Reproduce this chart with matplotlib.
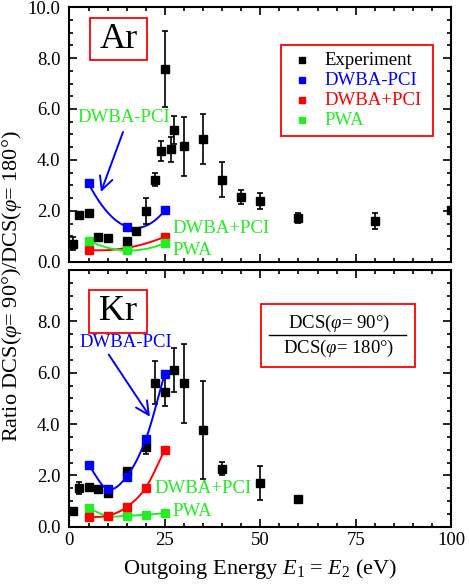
import numpy as np
import matplotlib
matplotlib.use('Agg')
import matplotlib.pyplot as plt
from matplotlib.ticker import MultipleLocator, FormatStrFormatter
from matplotlib.patches import Rectangle

plt.rcParams['font.family'] = ['Liberation Serif', 'DejaVu Serif']
plt.rcParams['mathtext.fontset'] = 'custom'
plt.rcParams['mathtext.rm'] = 'Liberation Serif'
plt.rcParams['mathtext.it'] = 'Liberation Serif:italic'
plt.rcParams['font.size'] = 13.5

BLUE = '#0000ff'
RED = '#ff0000'
GREEN = '#22ee22'

# ---- Ar data ----
ar_exp_E = [1, 2.5, 5, 7.5, 10, 15, 17.5, 20, 22.5, 24, 25, 26.5, 27.5, 30, 35, 40, 45, 50, 60, 80, 100]
ar_exp_R = [0.71, 1.84, 1.92, 0.97, 0.92, 0.84, 1.21, 2.0, 3.22, 4.36, 7.57, 4.42, 5.18, 4.54, 4.82, 3.22, 2.55, 2.39, 1.71, 1.62, 2.02]
ar_exp_err = [0.26, 0.05, 0.05, 0.05, 0.05, 0.05, 0.05, 0.52, 0.26, 0.39, 1.5, 0.49, 0.54, 1.16, 0.98, 0.69, 0.29, 0.33, 0.2, 0.31, 0.05]

theory_E = [5, 15, 25]
ar_dwba_mpci = [3.08, 1.39, 2.02]
ar_dwba_ppci = [0.47, 0.55, 0.99]
ar_pwa = [0.84, 0.45, 0.74]

# ---- Kr data ----
kr_exp_E = [1, 2.5, 5, 7.5, 10, 15, 20, 22.5, 25, 27.5, 30, 35, 40, 50, 60]
kr_exp_R = [0.6, 1.52, 1.57, 1.47, 1.3, 2.19, 3.12, 5.62, 5.27, 6.11, 5.59, 3.77, 2.26, 1.72, 1.08]
kr_exp_err = [0.05, 0.24, 0.05, 0.05, 0.05, 0.05, 0.29, 0.83, 0.58, 0.86, 1.54, 1.9, 0.25, 0.66, 0.1]

kr_theory_E = [5, 10, 15, 20, 25]
kr_dwba_mpci = [2.41, 1.47, 1.96, 3.41, 5.97]
kr_dwba_ppci = [0.38, 0.43, 0.77, 1.53, 3.0]
kr_pwa = [0.73, 0.42, 0.43, 0.47, 0.53]


def smooth(x, y):
    # smooth connecting line through the calculated points (like origin's spline)
    x = np.asarray(x, float)
    y = np.asarray(y, float)
    xs = np.linspace(x.min(), x.max(), 100)
    if len(x) == 3:
        return xs, np.polyval(np.polyfit(x, y, 2), xs)
    ys = []
    for xv in xs:
        i = min(max(np.searchsorted(x, xv) - 1, 0), len(x) - 2)
        p0 = y[i - 1] if i > 0 else 2 * y[i] - y[i + 1]
        p1, p2 = y[i], y[i + 1]
        p3 = y[i + 2] if i + 2 < len(x) else 2 * y[i + 1] - y[i]
        t = (xv - x[i]) / (x[i + 1] - x[i])
        ys.append(0.5 * ((2 * p1) + (-p0 + p2) * t + (2 * p0 - 5 * p1 + 4 * p2 - p3) * t ** 2
                         + (-p0 + 3 * p1 - 3 * p2 + p3) * t ** 3))
    return xs, np.array(ys)


def style_axes(ax, show_xlabels):
    ax.set_xlim(0, 100)
    ax.set_ylim(0, 10)
    ax.xaxis.set_major_locator(MultipleLocator(25))
    ax.xaxis.set_minor_locator(MultipleLocator(5))
    ax.yaxis.set_major_locator(MultipleLocator(2))
    ax.yaxis.set_minor_locator(MultipleLocator(0.5))
    ax.yaxis.set_major_formatter(FormatStrFormatter('%.1f'))
    ax.tick_params(which='both', direction='in', top=True, right=True, width=1.2)
    ax.tick_params(which='major', length=6, labelsize=13.5)
    ax.tick_params(which='minor', length=3)
    ax.tick_params(axis='y', pad=6.5)
    for s in ax.spines.values():
        s.set_linewidth(1.5)
    if not show_xlabels:
        ax.tick_params(labelbottom=False)


def draw_theory(ax, x, y, color, zorder):
    xs, ys = smooth(x, y)
    ax.plot(xs, ys, color=color, lw=1.4, zorder=zorder)
    ax.plot(x, y, 's', color=color, ms=6, zorder=zorder + 0.5)


def label_box(ax, x0, y0, x1, y1, txt):
    ax.add_patch(Rectangle((x0, y0), x1 - x0, y1 - y0, transform=ax.transAxes,
                           fc='white', ec=RED, lw=1.3, zorder=6))
    ax.text((x0 + x1) / 2, (y0 + y1) / 2, txt, transform=ax.transAxes, fontsize=26,
            ha='center', va='center', zorder=7)


fig = plt.figure(figsize=(4.69, 5.86), dpi=100)
ax1 = fig.add_axes([0.148, 0.553, 0.814, 0.435])
ax2 = fig.add_axes([0.148, 0.101, 0.814, 0.438])

# ---- top panel: Ar ----
style_axes(ax1, False)
ax1.errorbar(ar_exp_E, ar_exp_R, yerr=ar_exp_err, fmt='s', color='black', ms=6,
             capsize=2, elinewidth=1.2, capthick=1.2, zorder=5)
draw_theory(ax1, theory_E, ar_dwba_mpci, BLUE, 3)
draw_theory(ax1, theory_E, ar_dwba_ppci, RED, 3)
draw_theory(ax1, theory_E, ar_pwa, GREEN, 4)

label_box(ax1, 0.054, 0.792, 0.203, 0.957, 'Ar')
ax1.text(2, 5.65, 'DWBA-PCI', color=GREEN, fontsize=13.5, va='center')
ax1.annotate('', xy=(8, 2.64), xytext=(14.3, 5.2),
             arrowprops=dict(arrowstyle='->,head_length=0.7,head_width=0.35', color=BLUE, lw=1.4))
ax1.text(27, 1.3, 'DWBA+PCI', color=GREEN, fontsize=13.5, va='center')
ax1.text(27, 0.45, 'PWA', color=GREEN, fontsize=13.5, va='center')

# legend
ax1.add_patch(Rectangle((0.555, 0.493), 0.398, 0.358, transform=ax1.transAxes,
                        fill=False, ec=RED, lw=1.3, zorder=6))
leg_names = ['Experiment', 'DWBA-PCI', 'DWBA+PCI', 'PWA']
leg_colors = ['black', BLUE, RED, GREEN]
for i, (name, c) in enumerate(zip(leg_names, leg_colors)):
    yy = 0.792 - i * 0.0785
    ax1.plot([0.609], [yy], 's', color=c, ms=5, transform=ax1.transAxes, zorder=6)
    ax1.text(0.668, yy, name, color=c, fontsize=13.5, va='center', ha='left',
             transform=ax1.transAxes, zorder=6)

# ---- bottom panel: Kr ----
style_axes(ax2, True)
ax2.set_yticks([0, 2, 4, 6, 8])
ax2.errorbar(kr_exp_E, kr_exp_R, yerr=kr_exp_err, fmt='s', color='black', ms=6,
             capsize=2, elinewidth=1.2, capthick=1.2, zorder=3)
draw_theory(ax2, kr_theory_E, kr_dwba_mpci, BLUE, 4)
draw_theory(ax2, kr_theory_E, kr_pwa, GREEN, 5)
draw_theory(ax2, kr_theory_E, kr_dwba_ppci, RED, 6)

label_box(ax2, 0.052, 0.756, 0.202, 0.922, 'Kr')
ax2.text(2.5, 7.2, 'DWBA-PCI', color=BLUE, fontsize=13.5, va='center')
ax2.annotate('', xy=(21.5, 4.2), xytext=(9.9, 6.8),
             arrowprops=dict(arrowstyle='->,head_length=0.7,head_width=0.35', color=BLUE, lw=1.4))
ax2.text(22.2, 1.5, 'DWBA+PCI', color=GREEN, fontsize=13.5, va='center')
ax2.text(27, 0.58, 'PWA', color=GREEN, fontsize=13.5, va='center')

# ratio box
ax2.add_patch(Rectangle((0.501, 0.621), 0.405, 0.246, transform=ax2.transAxes,
                        fill=False, ec=RED, lw=1.3, zorder=6))
ax2.text(0.705, 0.793, r'DCS($\varphi$= 90°)', transform=ax2.transAxes, ha='center',
         va='center', fontsize=13.5)
ax2.text(0.705, 0.695, r'DCS($\varphi$= 180°)', transform=ax2.transAxes, ha='center',
         va='center', fontsize=13.5)
ax2.plot([0.523, 0.882], [0.747, 0.747], color='black', lw=1.0, transform=ax2.transAxes)

ax2.set_xlabel(r'Outgoing Energy $E_1$ = $E_2$ (eV)', fontsize=16, labelpad=6)
fig.text(0.026, 0.512, r'Ratio DCS($\varphi$= 90°)/DCS($\varphi$= 180°)', rotation=90,
         ha='center', va='center', fontsize=16)

fig.savefig('out.png', dpi=100)
